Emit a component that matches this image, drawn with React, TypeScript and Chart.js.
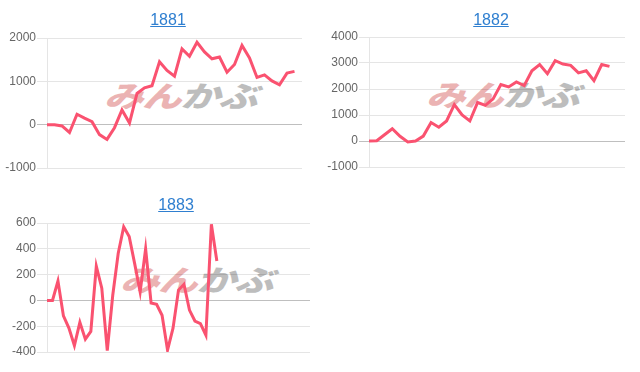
import React, { useEffect, useRef } from "react";
import { Chart, registerables } from "chart.js";

Chart.register(...registerables);

// Hidden x categories (one per period); the years have different lengths
const labels1881: string[] = Array.from({ length: 35 }, (_, i) => String(i + 1));
const labels1882: string[] = Array.from({ length: 34 }, (_, i) => String(i + 1));
const labels1883: string[] = Array.from({ length: 49 }, (_, i) => String(i + 1));

const values1881: number[] = [
  0, 0, -30, -180, 240, 150, 70, -230, -340, -70, 340, 40, 720, 850, 900, 1450, 1250,
  1120, 1750, 1580, 1900, 1680, 1520, 1560, 1210, 1390, 1830, 1540, 1090, 1150, 1010,
  920, 1190, 1230,
];
const values1882: number[] = [
  0, 10, 240, 470, 180, -40, 0, 190, 710, 530, 770, 1400, 1000, 770, 1480, 1370, 1620,
  2170, 2080, 2270, 2130, 2700, 2940, 2590, 3090, 2960, 2910, 2620, 2700, 2320, 2940,
  2870,
];
const values1883: number[] = [
  0, 0, 150, -120, -215, -350, -170, -300, -240, 265, 95, -390, 40, 365, 570, 495, 285,
  65, 400, -20, -30, -115, -385, -215, 80, 125, -75, -160, -180, -270, 590, 305,
];

const yTicks1881 = { min: -1000, max: 2000, step: 1000 };
const yTicks1882 = { min: -1000, max: 4000, step: 1000 };
const yTicks1883 = { min: -400, max: 600, step: 200 };

const LINE_COLOR = "rgb(250, 82, 112)";

type Box = { left: number; top: number; width: number; height: number };

function MiniChart(props: {
  title: string;
  labels: string[];
  values: number[];
  ticks: { min: number; max: number; step: number };
  box: Box;
  titleX: number;
  titleY: number;
  wmLeft: number;
  wmTop: number;
}) {
  const ref = useRef<HTMLCanvasElement | null>(null);
  useEffect(() => {
    if (!ref.current) return;
    const chart = new Chart(ref.current, {
      type: "line",
      data: {
        labels: props.labels,
        datasets: [
          {
            data: props.values,
            borderColor: LINE_COLOR,
            backgroundColor: LINE_COLOR,
            borderWidth: 3,
            pointRadius: 0,
            fill: false,
            tension: 0,
          },
        ],
      },
      options: {
        responsive: false,
        animation: false,
        layout: { padding: { top: 10, bottom: 10, left: 0, right: 0 } },
        plugins: { legend: { display: false }, tooltip: { enabled: false } },
        scales: {
          x: { display: false },
          y: {
            min: props.ticks.min,
            max: props.ticks.max,
            afterFit: (scale: any) => {
              scale.width = 47;
            },
            ticks: {
              stepSize: props.ticks.step,
              color: "#666",
              padding: 1,
              font: { size: 12, family: "Arial, 'Liberation Sans', sans-serif" },
              callback: (v: any) => String(v),
            },
            grid: {
              tickLength: 10,
              color: (ctx: any) =>
                ctx.tick && ctx.tick.value === 0 ? "rgba(0,0,0,0.25)" : "rgba(0,0,0,0.1)",
            },
            border: { color: "rgba(0,0,0,0.1)" },
          },
        },
      },
    });
    return () => chart.destroy();
  }, []);

  return (
    <>
      <div
        style={{
          position: "absolute",
          left: props.wmLeft,
          top: props.wmTop,
          fontFamily: "'Noto Sans CJK JP', sans-serif",
          fontWeight: 900,
          fontStyle: "italic",
          fontSize: 29,
          lineHeight: "30px",
          whiteSpace: "nowrap",
          transform: "scaleX(1.36)",
          transformOrigin: "left top",
          letterSpacing: -1,
        }}
      >
        <span style={{ color: "#ebb3b3" }}>みん</span>
        <span style={{ color: "#bdbdbd" }}>かぶ</span>
      </div>
      <canvas
        ref={ref}
        width={props.box.width}
        height={props.box.height}
        style={{
          position: "absolute",
          left: props.box.left,
          top: props.box.top,
          width: props.box.width,
          height: props.box.height,
        }}
      />
      <div
        style={{
          position: "absolute",
          left: props.titleX - 50,
          top: props.titleY - 10,
          width: 100,
          textAlign: "center",
          lineHeight: "20px",
          fontSize: 16,
          fontFamily: "Arial, 'Liberation Sans', sans-serif",
        }}
      >
        <a href="#" style={{ color: "#2f7fd0", textDecoration: "underline" }}>
          {props.title}
        </a>
      </div>
    </>
  );
}

export default function App() {
  return (
    <div
      style={{
        position: "absolute",
        left: 0,
        top: 0,
        width: 640,
        height: 372,
        background: "#fff",
        overflow: "hidden",
      }}
    >
      <MiniChart
        title="1881"
        labels={labels1881}
        values={values1881}
        ticks={yTicks1881}
        box={{ left: 0, top: 28, width: 302, height: 150 }}
        titleX={168}
        titleY={20}
        wmLeft={104}
        wmTop={79}
      />
      <MiniChart
        title="1882"
        labels={labels1882}
        values={values1882}
        ticks={yTicks1882}
        box={{ left: 322, top: 27, width: 303, height: 150 }}
        titleX={491}
        titleY={20}
        wmLeft={426}
        wmTop={78}
      />
      <MiniChart
        title="1883"
        labels={labels1883}
        values={values1883}
        ticks={yTicks1883}
        box={{ left: 0, top: 213, width: 310, height: 149 }}
        titleX={176}
        titleY={205}
        wmLeft={120}
        wmTop={263}
      />
    </div>
  );
}
